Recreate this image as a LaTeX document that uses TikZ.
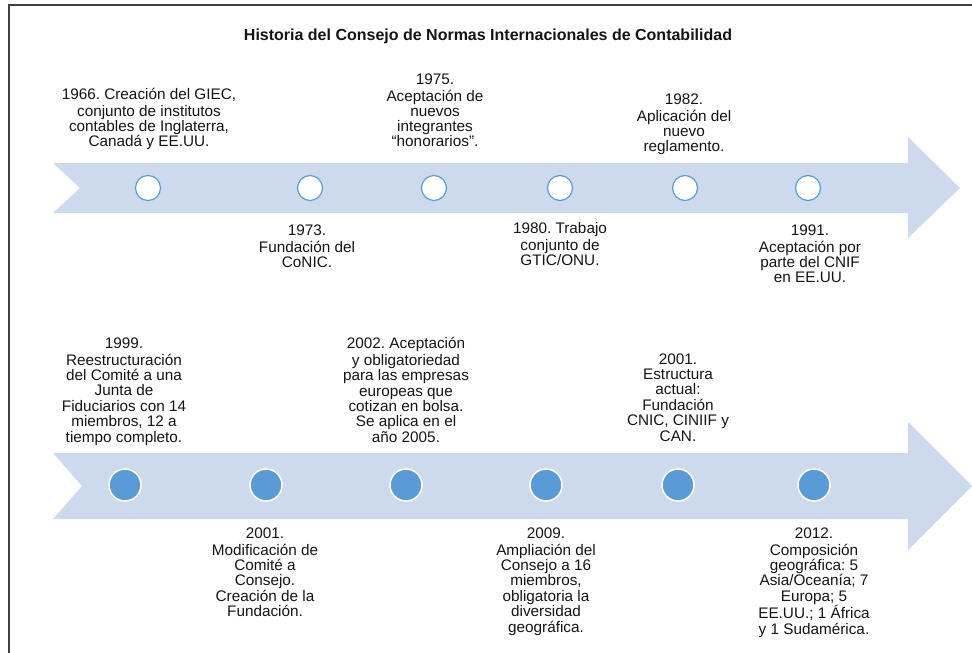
\documentclass[tikz,border=0pt]{standalone}
\usepackage{fontspec}
\setmainfont{Liberation Sans}
\definecolor{bandblue}{HTML}{CDDAED}
\definecolor{dotblue}{HTML}{5B9BD5}
\definecolor{txtc}{HTML}{141414}
\begin{document}
\frenchspacing
\begin{tikzpicture}[x=1pt,y=-1pt,
  bandshape/.style={fill=bandblue,draw=none},
  dotopen/.style={circle,draw=dotblue,fill=white,line width=1.2pt,minimum size=25pt,inner sep=0pt},
  dotfull/.style={circle,draw=white,fill=dotblue,line width=1.5pt,minimum size=32pt,inner sep=0pt},
  lbltop/.style={align=center,inner sep=0pt,anchor=north,text=txtc,font=\fontsize{15.3}{15}\selectfont},
  lblbot/.style={align=center,inner sep=0pt,anchor=north,text=txtc,font=\fontsize{15.3}{15.4}\selectfont},
  frameline/.style={draw=black!75,line width=2pt}]
\useasboundingbox (0,0) rectangle (972,653);
% frame
\draw[frameline] (9,653) -- (9,5) -- (972,5);
% title
\node[anchor=base,inner sep=0pt,text=txtc,font=\fontsize{16}{19}\selectfont\bfseries] (title) at (488,40)
  {Historia del Consejo de Normas Internacionales de Contabilidad};
% arrows
\fill[bandshape] (53,163) -- (908,163) -- (908,137) -- (960,188) -- (908,238) -- (908,213) -- (53,213) -- (80,188) -- cycle;
\fill[bandshape] (53,453) -- (908,453) -- (908,422) -- (972,486) -- (908,550) -- (908,519) -- (53,519) -- (82,486) -- cycle;
% top circles
\node[dotopen] (c1) at (148,188) {};
\node[dotopen] (c2) at (310,188) {};
\node[dotopen] (c3) at (434,188) {};
\node[dotopen] (c4) at (560,188) {};
\node[dotopen] (c5) at (685,188) {};
\node[dotopen] (c6) at (808,188) {};
% bottom circles
\node[dotfull] (d1) at (125,485) {};
\node[dotfull] (d2) at (266,485) {};
\node[dotfull] (d3) at (406,485) {};
\node[dotfull] (d4) at (546,485) {};
\node[dotfull] (d5) at (678,485) {};
\node[dotfull] (d6) at (814,485) {};
% top row texts
\node[lbltop] (t1) at (149,88.5) {\strut 1966. Creación del GIEC,\\conjunto de institutos\\contables de Inglaterra,\\Canadá y EE.UU.};
\node[lbltop] (t2) at (307,224.5) {\strut 1973.\\Fundación del\\CoNIC.};
\node[lbltop] (t3) at (435,73.5) {\strut 1975.\\Aceptación de\\nuevos\\integrantes\\“honorarios”.};
\node[lbltop] (t4) at (560,222.5) {\strut 1980. Trabajo\\conjunto de\\GTIC/ONU.};
\node[lbltop] (t5) at (684,94) {\strut 1982.\\Aplicación del\\nuevo\\reglamento.};
\node[lbltop] (t6) at (810,224.5) {\strut 1991.\\Aceptación por\\parte del CNIF\\en EE.UU.};
% bottom row texts
\node[lblbot] (b1) at (124,337.2) {\strut 1999.\\Reestructuración\\del Comité a una\\Junta de\\Fiduciarios con 14\\miembros, 12 a\\tiempo completo.};
\node[lblbot] (b2) at (265,527.2) {\strut 2001.\\Modificación de\\Comité a\\Consejo.\\Creación de la\\Fundación.};
\node[lblbot] (b3) at (406,337.2) {\strut 2002. Aceptación\\y obligatoriedad\\para las empresas\\europeas que\\cotizan en bolsa.\\Se aplica en el\\año 2005.};
\node[lblbot] (b4) at (546,527.2) {\strut 2009.\\Ampliación del\\Consejo a 16\\miembros,\\obligatoria la\\diversidad\\geográfica.};
\node[lblbot] (b5) at (678,353.2) {\strut 2001.\\Estructura\\actual:\\Fundación\\CNIC, CINIIF y\\CAN.};
\node[lblbot] (b6) at (814,527.2) {\strut 2012.\\Composición\\geográfica: 5\\Asia/Oceanía; 7\\Europa; 5\\EE.UU.; 1 África\\y 1 Sudamérica.};
\end{tikzpicture}
\end{document}
